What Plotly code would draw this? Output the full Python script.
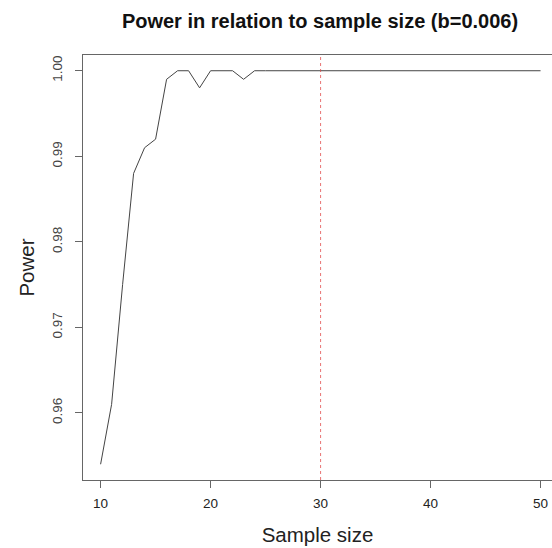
import plotly.graph_objects as go

sample_size = list(range(10, 51))
power_head = [0.954, 0.961, 0.975, 0.988, 0.991, 0.992, 0.999, 1.000, 1.000, 0.998,
              1.000, 1.000, 1.000, 0.999, 1.000]
power = power_head + [1.000] * (len(sample_size) - len(power_head))
vline_x = 30
x_ticks = [10, 20, 30, 40, 50]
y_ticks = [0.96, 0.97, 0.98, 0.99, 1.00]
y_tick_text = ["0.96", "0.97", "0.98", "0.99", "1.00"]

fig = go.Figure()
fig.add_trace(go.Scatter(x=sample_size, y=power, mode="lines",
                         line=dict(color="#444444", width=1), showlegend=False))
fig.add_shape(type="line", xref="x", yref="paper", x0=vline_x, x1=vline_x, y0=0, y1=1,
              line=dict(color="rgba(225,70,70,0.75)", width=1, dash="3px,3px"))

font = "Liberation Sans, Arial, sans-serif"
fig.update_layout(
    width=552, height=548,
    margin=dict(l=83, r=0, t=55, b=68),
    paper_bgcolor="white", plot_bgcolor="white",
    font=dict(family=font, color="#222222"),
    title=dict(text="<b>Power in relation to sample size (b=0.006)</b>",
               x=(83 + 557) / 2 / 552, xanchor="center", y=1 - 21 / 548, yanchor="middle",
               font=dict(size=20, color="#111111")),
    xaxis=dict(range=[8.4, 51.04], tickvals=x_ticks, ticks="outside", ticklen=7,
               tickcolor="#666666", showline=True, linecolor="#666666", linewidth=1,
               mirror=True, showgrid=False, zeroline=False, ticklabelstandoff=4,
               tickfont=dict(size=13.5, color="#222222"),
               title=dict(text="Sample size", font=dict(size=20.5, color="#222222"), standoff=17)),
    yaxis=dict(range=[0.95216, 1.00184], tickvals=y_ticks, ticktext=y_tick_text,
               ticks="outside", ticklen=7, tickcolor="#666666", tickangle=-90,
               showline=True, linecolor="#666666", linewidth=1, mirror=False,
               showgrid=False, zeroline=False, ticklabelstandoff=8,
               tickfont=dict(size=13.5, color="#444444"),
               title=dict(text="Power", font=dict(size=20.5, color="#222222"), standoff=9)),
)
fig.write_html("out.html")
